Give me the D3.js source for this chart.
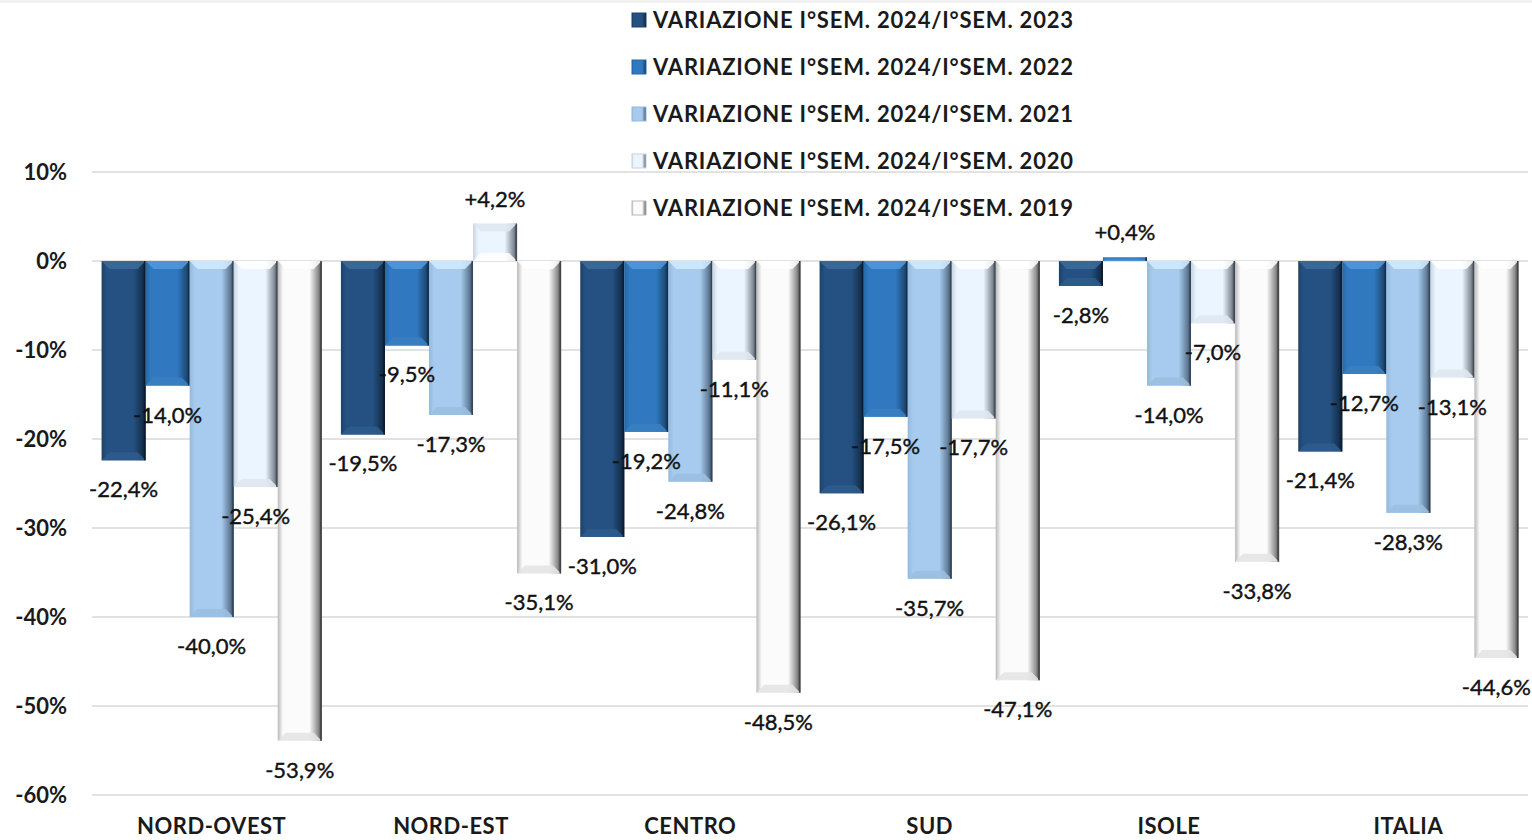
<!DOCTYPE html>
<html>
<head>
<meta charset="utf-8">
<script src="https://cdn.jsdelivr.net/npm/d3@7"></script>
<style>
  body { margin: 0; background: #fff; }
  svg { display: block; font-family: Lato, "Open Sans", sans-serif; }
</style>
</head>
<body>
<div id="viz-container"></div>
<script>
// data
let categories = ["NORD-OVEST", "NORD-EST", "CENTRO", "SUD", "ISOLE", "ITALIA"];
let seriesNames = [
  "VARIAZIONE I°SEM. 2024/I°SEM. 2023",
  "VARIAZIONE I°SEM. 2024/I°SEM. 2022",
  "VARIAZIONE I°SEM. 2024/I°SEM. 2021",
  "VARIAZIONE I°SEM. 2024/I°SEM. 2020",
  "VARIAZIONE I°SEM. 2024/I°SEM. 2019"
];
let var2023 = [-22.4, -19.5, -31.0, -26.1, -2.8, -21.4];
let var2022 = [-14.0, -9.5, -19.2, -17.5, 0.4, -12.7];
let var2021 = [-40.0, -17.3, -24.8, -35.7, -14.0, -28.3];
let var2020 = [-25.4, 4.2, -11.1, -17.7, -7.0, -13.1];
let var2019 = [-53.9, -35.1, -48.5, -47.1, -33.8, -44.6];
let yTicks = [10, 0, -10, -20, -30, -40, -50, -60];

let allSeries = [var2023, var2022, var2021, var2020, var2019];

// bar look per series: left shade, base, right dark, bevel at zero, bevel at end
let looks = [
  {left: "#1d4268", base: "#255182", dark: "#0b1d30", bevel: "#3d6c9c", end: "#2d5b8b"},
  {left: "#2668a6", base: "#3079c0", dark: "#122f4d", bevel: "#5199dc", end: "#3a80c2"},
  {left: "#93b9de", base: "#a6cbee", dark: "#33465b", bevel: "#d2ecff", end: "#9bbfe0"},
  {left: "#c9d4de", base: "#eaf5ff", dark: "#414a53", bevel: "#ffffff", end: "#dfe8f0"},
  {left: "#b9b9b9", base: "#fbfbfb", dark: "#444444", bevel: "#ffffff", end: "#e4e4e4"}
];

let W = 1532, H = 840;
let viz = d3.select("#viz-container")
  .append("svg")
  .attr("width", W)
  .attr("height", H);

// chart border strip on top
viz.append("rect").attr("x", 0).attr("y", 0).attr("width", W).attr("height", 3).attr("fill", "#f2f2f2");

let defs = viz.append("defs");
looks.forEach(function(l, i){
  let g = defs.append("linearGradient").attr("id", "grad" + i)
    .attr("x1", "0%").attr("x2", "100%").attr("y1", "0%").attr("y2", "0%");
  g.append("stop").attr("offset", "0%").attr("stop-color", l.left);
  g.append("stop").attr("offset", "12%").attr("stop-color", l.base);
  g.append("stop").attr("offset", "72%").attr("stop-color", l.base);
  g.append("stop").attr("offset", "92%").attr("stop-color", d3.interpolateRgb(l.base, l.dark)(0.6));
  g.append("stop").attr("offset", "100%").attr("stop-color", l.dark);
});

let x0 = d3.scaleBand().domain(categories).range([92, 1528]).paddingInner(0.08).paddingOuter(0.04);
let x1 = d3.scaleBand().domain(d3.range(5)).range([0, x0.bandwidth()]);
let y = d3.scaleLinear().domain([-60, 10]).range([795, 172]);

// gridlines
viz.append("g").selectAll("line").data(yTicks).enter()
  .append("line")
  .attr("x1", 92).attr("x2", 1528)
  .attr("y1", d => y(d)).attr("y2", d => y(d))
  .attr("stroke", "#d9d9d9").attr("stroke-width", 1.5);

// y axis labels
viz.append("g").selectAll("text").data(yTicks).enter()
  .append("text")
  .attr("x", 67).attr("y", d => y(d))
  .attr("dy", "0.36em")
  .attr("text-anchor", "end")
  .attr("font-size", 22).attr("font-weight", "bold").attr("fill", "#1a1a1a")
  .text(d => d + "%");

// category labels
viz.append("g").selectAll("text").data(categories).enter()
  .append("text")
  .attr("x", d => x0(d) + x0.bandwidth() / 2)
  .attr("y", 834)
  .attr("text-anchor", "middle")
  .attr("font-size", 22).attr("font-weight", "bold").attr("fill", "#1a1a1a")
  .attr("letter-spacing", 0.5)
  .text(d => d);

// bars
let barData = [];
allSeries.forEach(function(vals, s){
  vals.forEach(function(v, c){
    barData.push({s: s, cat: categories[c], value: v});
  });
});

let bars = viz.append("g").selectAll(".bar").data(barData).enter()
  .append("g").attr("class", "bar");

function bx(d){ return x0(d.cat) + x1(d.s); }
let bw = x1.bandwidth();

bars.append("rect")
  .attr("x", bx)
  .attr("y", d => Math.min(y(0), y(d.value)))
  .attr("width", bw)
  .attr("height", d => Math.abs(y(d.value) - y(0)))
  .attr("fill", d => "url(#grad" + d.s + ")");

// bevel at the zero side
bars.append("polygon")
  .attr("points", function(d){
    let x = bx(d), h = Math.abs(y(d.value) - y(0));
    let b = Math.min(8, h / 2);
    let y0 = y(0), dir = d.value < 0 ? 1 : -1;
    return [[x, y0], [x + bw, y0], [x + bw - b, y0 + dir * b], [x + b, y0 + dir * b]].join(" ");
  })
  .attr("fill", d => looks[d.s].bevel)
  .attr("opacity", 0.85);

// bevel at the end side
bars.append("polygon")
  .attr("points", function(d){
    let x = bx(d), h = Math.abs(y(d.value) - y(0));
    let b = Math.min(8, h / 2);
    let ye = y(d.value), dir = d.value < 0 ? -1 : 1;
    return [[x, ye], [x + bw, ye], [x + bw - b, ye + dir * b], [x + b, ye + dir * b]].join(" ");
  })
  .attr("fill", d => looks[d.s].end)
  .attr("opacity", 0.9);

// right edge line
bars.append("line")
  .attr("x1", d => bx(d) + bw - 0.75).attr("x2", d => bx(d) + bw - 0.75)
  .attr("y1", d => Math.min(y(0), y(d.value)))
  .attr("y2", d => Math.max(y(0), y(d.value)))
  .attr("stroke", d => looks[d.s].dark).attr("stroke-width", 1.5);

// data labels
function fmt(v){
  let s = Math.abs(v).toFixed(1).replace(".", ",") + "%";
  return (v < 0 ? "-" : "+") + s;
}
viz.append("g").selectAll("text").data(barData).enter()
  .append("text")
  .attr("x", d => bx(d) + bw / 2)
  .attr("y", d => d.value < 0 ? y(d.value) + 29 : y(d.value) - 25)
  .attr("dy", "0.36em")
  .attr("text-anchor", "middle")
  .attr("font-size", 22).attr("fill", "#111")
  .attr("stroke", "#111").attr("stroke-width", 0.4)
  .text(d => fmt(d.value));

// legend
let legend = viz.append("g").selectAll("g").data(seriesNames).enter()
  .append("g")
  .attr("transform", (d, i) => "translate(632," + (20 + i * 47) + ")");
legend.append("rect")
  .attr("x", 0).attr("y", -7).attr("width", 14).attr("height", 14)
  .attr("fill", (d, i) => "url(#grad" + i + ")")
  .attr("stroke", (d, i) => looks[i].left).attr("stroke-width", 1);
legend.append("text")
  .attr("x", 21).attr("y", 0).attr("dy", "0.36em")
  .attr("font-size", 22).attr("font-weight", "bold").attr("fill", "#1a1a1a")
  .attr("letter-spacing", 0.8)
  .text(d => d);
</script>
</body>
</html>
